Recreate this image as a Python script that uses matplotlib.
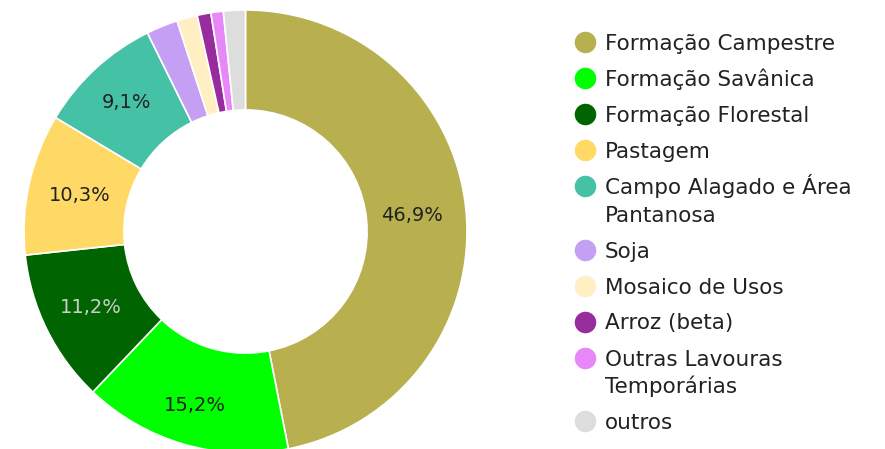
import matplotlib
matplotlib.use("Agg")
import matplotlib.pyplot as plt
import numpy as np

categories = ["Formação Campestre", "Formação Savânica", "Formação Florestal", "Pastagem",
              "Campo Alagado e Área\nPantanosa", "Soja", "Mosaico de Usos", "Arroz (beta)",
              "Outras Lavouras\nTemporárias", "outros"]
values = [46.9, 15.2, 11.2, 10.3, 9.1, 2.3, 1.5, 1.0, 0.9, 1.6]
colors = ["#B8AF4F", "#00FF00", "#006400", "#FFD966", "#45C2A5", "#C59FF4",
          "#FFEFC3", "#982C9E", "#E787F8", "#DDDDDD"]
label_colors = ["#222222", "#222222", "#CCCCCC", "#222222", "#222222"]
# radial placement of the percentage labels (fraction of outer radius)
label_radius = [0.755, 0.82, 0.78, 0.765, 0.79]

W, H = 885, 449
fig = plt.figure(figsize=(W / 100, H / 100), dpi=100)
fig.patch.set_facecolor("white")

cx, cy, R = 245.5, 231.5, 221.5
ax = fig.add_axes([(cx - R) / W, (H - cy - R) / H, 2 * R / W, 2 * R / H])
wedges, _ = ax.pie(values, colors=colors, startangle=90, counterclock=False,
                   radius=1.0, wedgeprops=dict(width=0.451, edgecolor="white", linewidth=1.2))
ax.set_xlim(-1, 1)
ax.set_ylim(-1, 1)
ax.set_aspect("equal")
ax.axis("off")

# percentage labels
for i, w in enumerate(wedges):
    if values[i] < 5:
        continue
    ang = np.deg2rad((w.theta1 + w.theta2) / 2)
    r = label_radius[i]
    txt = f"{values[i]:.1f}%".replace(".", ",")
    ax.text(r * np.cos(ang), r * np.sin(ang), txt, ha="center", va="center",
            fontsize=14, color=label_colors[i], family="DejaVu Sans")

# legend
lax = fig.add_axes([0, 0, 1, 1])
lax.set_xlim(0, W)
lax.set_ylim(H, 0)
lax.axis("off")
y = 42
for cat, col in zip(categories, colors):
    lines = cat.split("\n")
    lax.scatter([585], [y], s=(15.5) ** 2, color=col, marker="o", linewidths=0)
    for j, line in enumerate(lines):
        lax.text(605, y + 8 + j * 27.5, line, ha="left", va="baseline",
                 fontsize=15.5, color="#222222", family="DejaVu Sans")
    y += 36 + 27.5 * (len(lines) - 1)

fig.savefig("out.png", dpi=100, facecolor="white")
